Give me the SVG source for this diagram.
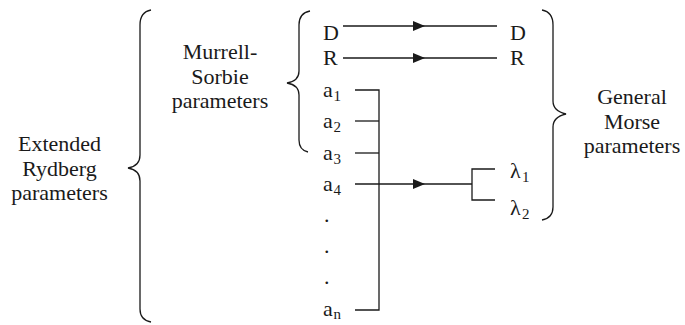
<svg xmlns="http://www.w3.org/2000/svg" width="685" height="325" viewBox="0 0 685 325">
<style>
.t{font-family:"Liberation Serif",serif;font-size:22px;fill:#1a1a1a}
.c{text-anchor:middle}
.s{font-family:"Liberation Serif",serif;font-size:15px;fill:#1a1a1a}
.ln{stroke:#1a1a1a;stroke-width:1.3;fill:none}
.ah{fill:#1a1a1a;stroke:none}
</style>
<g id="extended-rydberg">
<text class="t c" x="59.5" y="151">Extended</text>
<text class="t c" x="59.5" y="175.5">Rydberg</text>
<text class="t c" x="59.5" y="200">parameters</text>
<path class="ln" d="M151,10 Q140,12 140,25 L140,155 Q140,166 128,168 Q140,170 140,181 L140,309 Q140,320 151,322"/>
</g>
<g id="murrell-sorbie">
<text class="t c" x="220" y="59">Murrell-</text>
<text class="t c" x="220" y="83.5">Sorbie</text>
<text class="t c" x="220" y="108">parameters</text>
<path class="ln" d="M310,11 Q299,13 299,25 L299,71 Q299,81 287,83 Q299,85 299,95 L299,140 Q299,150 308,152"/>
</g>
<g id="general-morse">
<text class="t c" x="632" y="104">General</text>
<text class="t c" x="632" y="128.5">Morse</text>
<text class="t c" x="632" y="153">parameters</text>
<path class="ln" d="M542,10 Q553,12 553,25 L553,101 Q553,111 566,114 Q553,117 553,127 L553,207 Q553,218 542,220"/>
</g>
<g id="left-params">
<text class="t" x="323" y="40">D</text>
<text class="t" x="323" y="65">R</text>
<text class="t" x="323" y="97">a</text><text class="s" x="333.5" y="101">1</text>
<text class="t" x="323" y="128">a</text><text class="s" x="333.5" y="132">2</text>
<text class="t" x="323" y="160">a</text><text class="s" x="333.5" y="164">3</text>
<text class="t" x="323" y="191">a</text><text class="s" x="333.5" y="195">4</text>
<text class="t" x="324" y="222">.</text>
<text class="t" x="324" y="253">.</text>
<text class="t" x="324" y="284">.</text>
<text class="t" x="323" y="316">a</text><text class="s" x="333.5" y="319">n</text>
</g>
<g id="right-params">
<text class="t" x="510" y="40">D</text>
<text class="t" x="510" y="65">R</text>
<text class="t" x="510" y="178">&#955;</text><text class="s" x="522" y="182">1</text>
<text class="t" x="510" y="215">&#955;</text><text class="s" x="522" y="219">2</text>
</g>
<g id="connectors">
<line class="ln" x1="343" y1="26" x2="497" y2="26"/>
<polygon class="ah" points="413,21 425,26 413,31"/>
<line class="ln" x1="343" y1="58" x2="497" y2="58"/>
<polygon class="ah" points="413,53 425,58 413,63"/>
<polyline class="ln" points="355,90 379,90 379,310 355,310"/>
<line class="ln" x1="355" y1="121" x2="379" y2="121"/>
<line class="ln" x1="355" y1="153" x2="379" y2="153"/>
<line class="ln" x1="355" y1="184" x2="472" y2="184"/>
<polygon class="ah" points="413,179 425,184 413,189"/>
<polyline class="ln" points="495,169 472,169 472,200 495,200"/>
</g>
</svg>
